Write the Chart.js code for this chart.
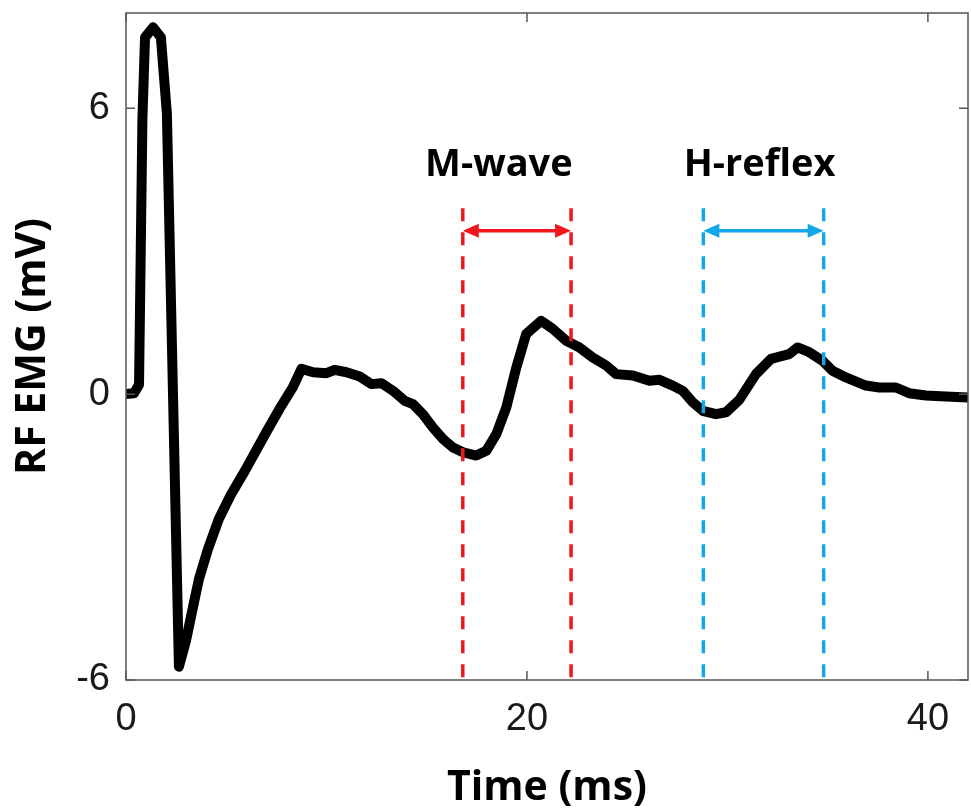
<!DOCTYPE html>
<html>
<head>
<meta charset="utf-8">
<script src="https://cdn.jsdelivr.net/npm/chart.js@4.4.1/dist/chart.umd.min.js"></script>
<style>
  html, body { margin: 0; padding: 0; background: #fff; }
  #wrap { width: 971px; height: 809px; }
</style>
</head>
<body>
<div id="wrap"><canvas id="chart"></canvas></div>
<script>
// trace: time (ms) and RF EMG (mV)
const timeMs = [
  0, 0.4, 0.65, 0.82, 0.95, 1.35, 1.74, 2.04, 2.64,
  2.99, 3.29, 3.64, 4.09, 4.63, 5.23, 5.93, 6.98, 7.67, 8.32, 8.75,
  9.33, 10.0, 10.41, 11.0, 11.66, 12.24, 12.74, 13.32, 13.9, 14.32,
  14.81, 15.31, 15.81, 16.31, 16.81, 17.47, 17.97, 18.47, 18.97, 19.47,
  19.96, 20.71, 21.29, 21.96, 22.62, 23.28, 23.95, 24.45, 25.28, 26.11,
  26.61, 27.27, 27.77, 28.27, 28.77, 29.43, 29.93, 30.59, 31.42, 32.17,
  33.08, 33.5, 34.08, 34.74, 35.24, 35.91, 36.9, 37.57, 38.4, 39.06,
  39.9, 40.9, 42.0,
]
const emgMv = [
  0, 0.02, 0.2, 5.8, 7.49, 7.7, 7.49, 5.89, -5.72,
  -5.18, -4.57, -3.88, -3.25, -2.62, -2.11, -1.61, -0.81, -0.3, 0.14, 0.53,
  0.46, 0.44, 0.51, 0.46, 0.37, 0.21, 0.23, 0.07, -0.14, -0.21,
  -0.42, -0.7, -0.94, -1.12, -1.22, -1.29, -1.19, -0.84, -0.28, 0.56,
  1.26, 1.54, 1.37, 1.12, 0.98, 0.77, 0.6, 0.42, 0.39, 0.28,
  0.3, 0.18, 0.07, -0.17, -0.35, -0.42, -0.38, -0.12, 0.42, 0.74,
  0.84, 0.98, 0.88, 0.7, 0.49, 0.35, 0.18, 0.14, 0.14, 0.02,
  -0.03, -0.05, -0.07,
]

const xTickValues = [0, 20, 40]
const yTickValues = [-6, 0, 6]

// response windows
const windowNames = ["M-wave", "H-reflex"]
const windowStart = [16.8, 28.8]
const windowEnd = [22.2, 34.8]
const windowColors = ["#f2161c", "#15a6e8"]
const labelTime = [18.6, 31.6]
const labelLevel = 4.8
const arrowLevel = 3.43
const dashTop = 3.9

const BOLD_FONT = "'Open Sans', 'Noto Sans', sans-serif"
const TICK_FONT = "'Liberation Sans', Arial, sans-serif"

const frameAndMarkers = {
  id: "frameAndMarkers",
  afterDatasetsDraw(chart) {
    const { ctx, chartArea: a, scales } = chart
    const { x, y } = scales
    ctx.save()

    windowNames.forEach((name, i) => {
      const color = windowColors[i]
      const x0 = x.getPixelForValue(windowStart[i])
      const x1 = x.getPixelForValue(windowEnd[i])
      const yTop = y.getPixelForValue(dashTop)
      const yArrow = y.getPixelForValue(arrowLevel)

      // dashed limits
      ctx.strokeStyle = color
      ctx.lineWidth = 3.5
      ctx.setLineDash([13, 11])
      ;[x0, x1].forEach((px) => {
        ctx.beginPath()
        ctx.moveTo(px, yTop)
        ctx.lineTo(px, a.bottom)
        ctx.stroke()
      })
      ctx.setLineDash([])

      // double arrow
      const head = 16
      const half = 7
      ctx.lineWidth = 3.5
      ctx.beginPath()
      ctx.moveTo(x0 + head - 2, yArrow)
      ctx.lineTo(x1 - head + 2, yArrow)
      ctx.stroke()
      ctx.fillStyle = color
      ctx.beginPath()
      ctx.moveTo(x0, yArrow)
      ctx.lineTo(x0 + head, yArrow - half)
      ctx.lineTo(x0 + head, yArrow + half)
      ctx.closePath()
      ctx.fill()
      ctx.beginPath()
      ctx.moveTo(x1, yArrow)
      ctx.lineTo(x1 - head, yArrow - half)
      ctx.lineTo(x1 - head, yArrow + half)
      ctx.closePath()
      ctx.fill()

      // label
      ctx.fillStyle = "#000"
      ctx.font = `bold 38px ${BOLD_FONT}`
      ctx.textAlign = "center"
      ctx.textBaseline = "middle"
      ctx.fillText(name, x.getPixelForValue(labelTime[i]), y.getPixelForValue(labelLevel))
    })

    // box with inward ticks, as in the original figure
    ctx.strokeStyle = "#555"
    ctx.lineWidth = 1.5
    ctx.strokeRect(a.left, a.top, a.right - a.left, a.bottom - a.top)
    const tick = 9
    ctx.beginPath()
    xTickValues.forEach((v) => {
      const px = x.getPixelForValue(v)
      ctx.moveTo(px, a.bottom)
      ctx.lineTo(px, a.bottom - tick)
      ctx.moveTo(px, a.top)
      ctx.lineTo(px, a.top + tick)
    })
    yTickValues.forEach((v) => {
      const py = y.getPixelForValue(v)
      ctx.moveTo(a.left, py)
      ctx.lineTo(a.left + tick, py)
      ctx.moveTo(a.right, py)
      ctx.lineTo(a.right - tick, py)
    })
    ctx.stroke()
    ctx.restore()
  },
}

const ctx = document.getElementById("chart").getContext("2d")

new Chart(ctx, {
  type: "line",
  data: {
    datasets: [
      {
        data: timeMs.map((t, i) => ({ x: t, y: emgMv[i] })),
        borderColor: "#000",
        borderWidth: 10,
        borderJoinStyle: "round",
        borderCapStyle: "round",
        pointRadius: 0,
        tension: 0,
        fill: false,
      },
    ],
  },
  options: {
    responsive: true,
    maintainAspectRatio: false,
    animation: false,
    events: [],
    layout: {
      padding: { left: 0, right: 3, top: 13, bottom: 0 },
    },
    plugins: {
      legend: { display: false },
      tooltip: { enabled: false },
    },
    scales: {
      x: {
        type: "linear",
        min: 0,
        max: 42,
        afterBuildTicks: (scale) => {
          scale.ticks = xTickValues.map((v) => ({ value: v }))
        },
        afterFit: (scale) => {
          scale.height = 129
          scale.paddingLeft = 0
          scale.paddingRight = 0
        },
        grid: { display: false, drawTicks: false },
        border: { display: false },
        ticks: {
          padding: 17,
          color: "#1a1a1a",
          font: { family: TICK_FONT, size: 38 },
          maxRotation: 0,
        },
        title: {
          display: true,
          text: "Time (ms)",
          color: "#000",
          font: { family: BOLD_FONT, size: 41, weight: "bold", lineHeight: 1 },
          padding: { top: 0, bottom: 0 },
        },
      },
      y: {
        min: -6,
        max: 8,
        afterBuildTicks: (scale) => {
          scale.ticks = yTickValues.map((v) => ({ value: v }))
        },
        afterFit: (scale) => {
          scale.width = 126
          scale.paddingTop = 0
          scale.paddingBottom = 0
        },
        grid: { display: false, drawTicks: false },
        border: { display: false },
        ticks: {
          padding: 16,
          color: "#1a1a1a",
          font: { family: TICK_FONT, size: 38 },
        },
        title: {
          display: true,
          text: "RF EMG (mV)",
          color: "#000",
          font: { family: BOLD_FONT, size: 41, weight: "bold", lineHeight: 1 },
          padding: { top: 13, bottom: 0 },
        },
      },
    },
  },
  plugins: [frameAndMarkers],
})
</script>
</body>
</html>
